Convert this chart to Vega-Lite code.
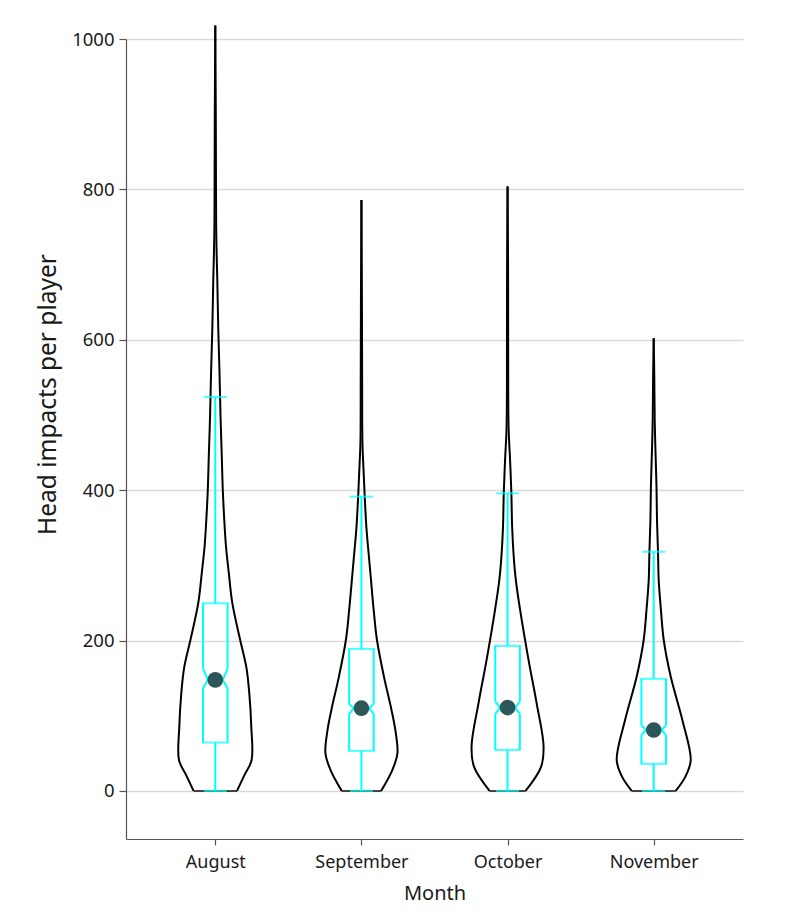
{
  "$schema": "https://vega.github.io/schema/vega-lite/v6.json",
  "width": 617,
  "height": 800,
  "autosize": {"type": "none"},
  "padding": {"left": 126, "top": 39, "right": 51, "bottom": 85},
  "background": "white",
  "config": {"view": {"stroke": null}, "font": "Noto Sans"},
  "datasets": {
    "violin": [
      {"month": "August", "value": 0, "density": 21.7},
      {"month": "August", "value": 20, "density": 28.8},
      {"month": "August", "value": 41, "density": 36.3},
      {"month": "August", "value": 85, "density": 36},
      {"month": "August", "value": 130, "density": 34},
      {"month": "August", "value": 165, "density": 31},
      {"month": "August", "value": 200, "density": 25},
      {"month": "August", "value": 250, "density": 17},
      {"month": "August", "value": 290, "density": 13.5},
      {"month": "August", "value": 325, "density": 10.7},
      {"month": "August", "value": 360, "density": 9},
      {"month": "August", "value": 400, "density": 7.5},
      {"month": "August", "value": 445, "density": 6.5},
      {"month": "August", "value": 500, "density": 5.2},
      {"month": "August", "value": 557, "density": 4.2},
      {"month": "August", "value": 613, "density": 3},
      {"month": "August", "value": 680, "density": 2},
      {"month": "August", "value": 737, "density": 1},
      {"month": "August", "value": 800, "density": 0.7},
      {"month": "August", "value": 900, "density": 0.5},
      {"month": "August", "value": 1018, "density": 0},
      {"month": "September", "value": 0, "density": 19.7},
      {"month": "September", "value": 28, "density": 31},
      {"month": "September", "value": 50, "density": 36},
      {"month": "September", "value": 80, "density": 34},
      {"month": "September", "value": 108, "density": 30},
      {"month": "September", "value": 152, "density": 22.5},
      {"month": "September", "value": 201, "density": 15.5},
      {"month": "September", "value": 240, "density": 12.3},
      {"month": "September", "value": 280, "density": 9.6},
      {"month": "September", "value": 307, "density": 7.8},
      {"month": "September", "value": 350, "density": 5},
      {"month": "September", "value": 391, "density": 3.3},
      {"month": "September", "value": 430, "density": 2},
      {"month": "September", "value": 463, "density": 1},
      {"month": "September", "value": 550, "density": 0.7},
      {"month": "September", "value": 650, "density": 0.5},
      {"month": "September", "value": 786, "density": 0},
      {"month": "October", "value": 0, "density": 18},
      {"month": "October", "value": 32, "density": 33.5},
      {"month": "October", "value": 59, "density": 36},
      {"month": "October", "value": 117, "density": 29},
      {"month": "October", "value": 174, "density": 21},
      {"month": "October", "value": 241, "density": 12.5},
      {"month": "October", "value": 280, "density": 8.3},
      {"month": "October", "value": 307, "density": 6.4},
      {"month": "October", "value": 350, "density": 4.6},
      {"month": "October", "value": 396, "density": 3.8},
      {"month": "October", "value": 440, "density": 2.5},
      {"month": "October", "value": 484, "density": 1},
      {"month": "October", "value": 600, "density": 0.6},
      {"month": "October", "value": 700, "density": 0.5},
      {"month": "October", "value": 804, "density": 0},
      {"month": "November", "value": 0, "density": 22},
      {"month": "November", "value": 19, "density": 31.7},
      {"month": "November", "value": 41, "density": 37},
      {"month": "November", "value": 94, "density": 28.7},
      {"month": "November", "value": 152, "density": 17},
      {"month": "November", "value": 201, "density": 10},
      {"month": "November", "value": 241, "density": 7.2},
      {"month": "November", "value": 280, "density": 5},
      {"month": "November", "value": 318, "density": 4.3},
      {"month": "November", "value": 360, "density": 3.3},
      {"month": "November", "value": 404, "density": 2.8},
      {"month": "November", "value": 450, "density": 1.8},
      {"month": "November", "value": 493, "density": 1},
      {"month": "November", "value": 550, "density": 0.6},
      {"month": "November", "value": 602, "density": 0}
    ],
    "box": [
      {"month": "August", "lo": 0, "q1": 64.3, "nlo": 136.5, "med": 147.6, "nhi": 163, "q3": 249.5, "hi": 524},
      {"month": "September", "lo": 0, "q1": 53.2, "nlo": 102.4, "med": 110, "nhi": 115.7, "q3": 188.8, "hi": 391.4},
      {"month": "October", "lo": 0, "q1": 54.5, "nlo": 102.4, "med": 110.8, "nhi": 118.8, "q3": 192.8, "hi": 395.8},
      {"month": "November", "lo": 0, "q1": 35.9, "nlo": 74.5, "med": 81, "nhi": 86.9, "q3": 149, "hi": 318}
    ]
  },
  "encoding": {
    "x": {
      "field": "month", "type": "nominal", "title": "Month",
      "sort": ["August", "September", "October", "November"],
      "scale": {"type": "point", "padding": 0.611},
      "axis": {
        "labelFontSize": 18, "labelFont": "Noto Sans", "labelColor": "#1a1a1a", "labelAngle": 0, "labelPadding": 8,
        "tickSize": 6, "tickColor": "#555555", "tickWidth": 1.2, "domainColor": "#555555", "domainWidth": 1.2,
        "titleFontSize": 20, "titleFont": "Noto Sans", "titleFontWeight": "normal", "titleColor": "#1a1a1a", "titlePadding": 12,
        "grid": false
      }
    }
  },
  "layer": [
    {
      "data": {"name": "violin"},
      "mark": {"type": "line", "color": "black", "strokeWidth": 2, "interpolate": "catmull-rom"},
      "encoding": {
        "y": {
          "field": "value", "type": "quantitative", "title": "Head impacts per player",
          "scale": {"domain": [-64, 1000], "nice": false, "zero": false},
          "axis": {
            "values": [0, 200, 400, 600, 800, 1000], "format": "d", "grid": true, "gridColor": "#d9d9d9", "gridWidth": 1.5,
            "labelFontSize": 18.5, "labelFont": "Noto Sans", "labelColor": "#1a1a1a", "labelPadding": 5,
            "tickSize": 7, "tickColor": "#555555", "tickWidth": 1.2, "domainColor": "#555555", "domainWidth": 1.2,
            "titleFontSize": 24.5, "titleFont": "Noto Sans", "titleFontWeight": "normal", "titleColor": "#1a1a1a",
            "titleX": -71, "titleY": 355, "titleBaseline": "alphabetic", "titleAngle": -90
          }
        },
        "xOffset": {"field": "density", "type": "quantitative", "scale": {"domain": [0, 40], "range": [0, 40]}},
        "detail": {"field": "month"},
        "order": {"field": "value", "type": "quantitative"}
      }
    },
    {
      "data": {"name": "violin"},
      "mark": {"type": "line", "color": "black", "strokeWidth": 2, "interpolate": "catmull-rom"},
      "encoding": {
        "y": {"field": "value", "type": "quantitative", "title": "Head impacts per player"},
        "xOffset": {"field": "density", "type": "quantitative", "scale": {"domain": [0, 40], "range": [0, -40]}},
        "detail": {"field": "month"},
        "order": {"field": "value", "type": "quantitative"}
      }
    },
    {
      "data": {"name": "violin"},
      "transform": [{"filter": "datum.value == 0"}],
      "mark": {"type": "tick", "orient": "horizontal", "color": "black", "thickness": 2},
      "encoding": {
        "y": {"field": "value", "type": "quantitative", "title": "Head impacts per player"},
        "size": {"field": "density", "type": "quantitative", "scale": {"domain": [0, 40], "range": [0, 80]}, "legend": null}
      }
    },
    {
      "data": {"name": "box"},
      "mark": {"type": "rule", "color": "#00ffff", "strokeWidth": 2},
      "encoding": {
        "y": {"field": "lo", "type": "quantitative", "title": "Head impacts per player"},
        "y2": {"field": "q1"}
      }
    },
    {
      "data": {"name": "box"},
      "mark": {"type": "rule", "color": "#00ffff", "strokeWidth": 2},
      "encoding": {
        "y": {"field": "q3", "type": "quantitative", "title": "Head impacts per player"},
        "y2": {"field": "hi"}
      }
    },
    {
      "data": {"name": "box"},
      "transform": [{"fold": ["lo", "hi"], "as": ["k", "v"]}],
      "mark": {"type": "tick", "orient": "horizontal", "color": "#00ffff", "thickness": 2, "size": 23},
      "encoding": {
        "y": {"field": "v", "type": "quantitative", "title": "Head impacts per player"}
      }
    },
    {
      "data": {"name": "box"},
      "transform": [{"fold": ["q1", "q3"], "as": ["k", "v"]}],
      "mark": {"type": "tick", "orient": "horizontal", "color": "#00ffff", "thickness": 2, "size": 26.6},
      "encoding": {
        "y": {"field": "v", "type": "quantitative", "title": "Head impacts per player"}
      }
    },
    {
      "data": {"name": "box"},
      "mark": {"type": "rule", "color": "#00ffff", "strokeWidth": 2, "xOffset": -12.3},
      "encoding": {
        "y": {"field": "q1", "type": "quantitative", "title": "Head impacts per player"},
        "y2": {"field": "nlo"}
      }
    },
    {
      "data": {"name": "box"},
      "mark": {"type": "rule", "color": "#00ffff", "strokeWidth": 2, "xOffset": 12.3},
      "encoding": {
        "y": {"field": "q1", "type": "quantitative", "title": "Head impacts per player"},
        "y2": {"field": "nlo"}
      }
    },
    {
      "data": {"name": "box"},
      "mark": {"type": "rule", "color": "#00ffff", "strokeWidth": 2, "xOffset": -12.3},
      "encoding": {
        "y": {"field": "nhi", "type": "quantitative", "title": "Head impacts per player"},
        "y2": {"field": "q3"}
      }
    },
    {
      "data": {"name": "box"},
      "mark": {"type": "rule", "color": "#00ffff", "strokeWidth": 2, "xOffset": 12.3},
      "encoding": {
        "y": {"field": "nhi", "type": "quantitative", "title": "Head impacts per player"},
        "y2": {"field": "q3"}
      }
    },
    {
      "data": {"name": "box"},
      "mark": {"type": "rule", "color": "#00ffff", "strokeWidth": 2, "xOffset": -12.3, "x2Offset": -7.5},
      "encoding": {
        "x2": {"field": "month"},
        "y": {"field": "nlo", "type": "quantitative", "title": "Head impacts per player"},
        "y2": {"field": "med"}
      }
    },
    {
      "data": {"name": "box"},
      "mark": {"type": "rule", "color": "#00ffff", "strokeWidth": 2, "xOffset": -7.5, "x2Offset": -12.3},
      "encoding": {
        "x2": {"field": "month"},
        "y": {"field": "med", "type": "quantitative", "title": "Head impacts per player"},
        "y2": {"field": "nhi"}
      }
    },
    {
      "data": {"name": "box"},
      "mark": {"type": "rule", "color": "#00ffff", "strokeWidth": 2, "xOffset": 12.3, "x2Offset": 7.5},
      "encoding": {
        "x2": {"field": "month"},
        "y": {"field": "nlo", "type": "quantitative", "title": "Head impacts per player"},
        "y2": {"field": "med"}
      }
    },
    {
      "data": {"name": "box"},
      "mark": {"type": "rule", "color": "#00ffff", "strokeWidth": 2, "xOffset": 7.5, "x2Offset": 12.3},
      "encoding": {
        "x2": {"field": "month"},
        "y": {"field": "med", "type": "quantitative", "title": "Head impacts per player"},
        "y2": {"field": "nhi"}
      }
    },
    {
      "data": {"name": "box"},
      "mark": {"type": "point", "filled": true, "color": "#2c5658", "opacity": 1, "size": 245, "strokeWidth": 0},
      "encoding": {
        "y": {"field": "med", "type": "quantitative", "title": "Head impacts per player"}
      }
    }
  ],
  "resolve": {"scale": {"xOffset": "independent"}}
}
